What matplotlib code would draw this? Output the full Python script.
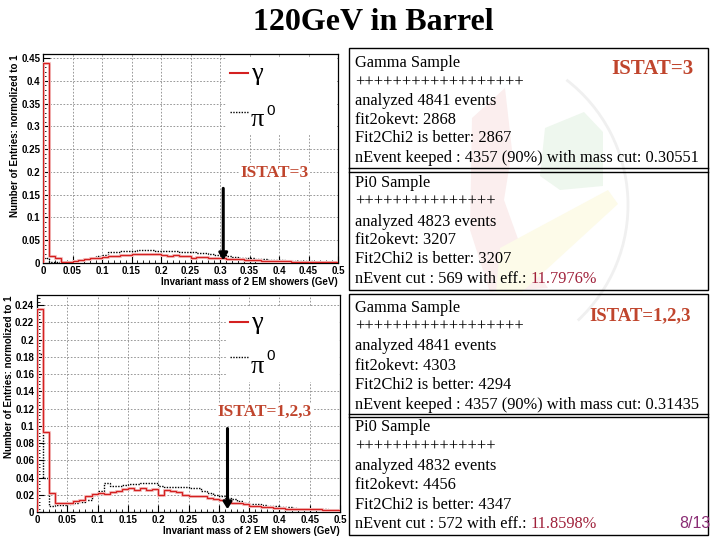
import numpy as np
import matplotlib
matplotlib.use("Agg")
import matplotlib.pyplot as plt
from matplotlib.patches import Rectangle, Polygon, Arc
from matplotlib.lines import Line2D
from matplotlib.ticker import MultipleLocator, FormatStrFormatter

# ---------------- data ----------------
bin_edges = np.round(np.arange(0, 0.5001, 0.01), 3)

gamma_istat3 = [0.44, 0.015, 0.012, 0.003, 0.003, 0.005, 0.006, 0.008, 0.010, 0.012,
                0.014, 0.015, 0.016, 0.017, 0.018, 0.019, 0.019, 0.020, 0.020, 0.019,
                0.018, 0.016, 0.017, 0.016, 0.015, 0.012, 0.014, 0.013, 0.012, 0.011,
                0.010, 0.009, 0.009, 0.008, 0.007, 0.006, 0.006, 0.005, 0.005, 0.004,
                0.004, 0.004, 0.003, 0.003, 0.003, 0.003, 0.002, 0.002, 0.002, 0.002]
pi0_istat3 = [0.012, 0.002, 0.002, 0.002, 0.003, 0.005, 0.007, 0.009, 0.012, 0.015,
              0.017, 0.025, 0.024, 0.026, 0.027, 0.027, 0.028, 0.028, 0.028, 0.027,
              0.027, 0.026, 0.026, 0.025, 0.024, 0.024, 0.022, 0.021, 0.020, 0.018,
              0.017, 0.015, 0.014, 0.012, 0.011, 0.010, 0.009, 0.008, 0.007, 0.007,
              0.006, 0.005, 0.005, 0.004, 0.004, 0.004, 0.003, 0.003, 0.002, 0.002]

gamma_istat123 = [0.235, 0.0925, 0.0215, 0.010, 0.010, 0.011, 0.0125, 0.014, 0.018, 0.021,
                  0.022, 0.021, 0.023, 0.0245, 0.027, 0.028, 0.026, 0.028, 0.026, 0.027,
                  0.020, 0.026, 0.024, 0.023, 0.020, 0.019, 0.018, 0.019, 0.016, 0.015,
                  0.014, 0.013, 0.011, 0.010, 0.009, 0.007, 0.007, 0.006, 0.006, 0.005,
                  0.005, 0.004, 0.004, 0.004, 0.003, 0.003, 0.003, 0.002, 0.002, 0.002]
pi0_istat123 = [0.183, 0.039, 0.0075, 0.008, 0.008, 0.009, 0.010, 0.012, 0.014, 0.020,
                0.024, 0.034, 0.030, 0.030, 0.031, 0.032, 0.032, 0.034, 0.034, 0.034,
                0.030, 0.029, 0.029, 0.029, 0.029, 0.028, 0.028, 0.024, 0.022, 0.020,
                0.018, 0.016, 0.015, 0.013, 0.011, 0.009, 0.009, 0.008, 0.007, 0.007,
                0.006, 0.006, 0.005, 0.004, 0.004, 0.003, 0.003, 0.003, 0.002, 0.002]

mass_cuts = [0.30551, 0.31435]
arrow_tops = [0.17, 0.10]
istat_labels = ["ISTAT=3", "ISTAT=1,2,3"]

title = "120GeV in Barrel"
xlabel = "Invariant mass of 2 EM showers (GeV)"
ylabel = "Number of Entries: normolized to 1"

box_top = [
    ["Gamma Sample", "++++++++++++++++++", "analyzed 4841 events", "fit2okevt: 2868",
     "Fit2Chi2 is better: 2867", "nEvent keeped : 4357 (90%) with mass cut: 0.30551"],
    ["Pi0 Sample", "+++++++++++++++", "analyzed 4823 events", "fit2okevt: 3207",
     "Fit2Chi2 is better: 3207", "nEvent cut : 569 with eff.: "],
]
eff_top = "11.7976%"
box_bot = [
    ["Gamma Sample", "++++++++++++++++++", "analyzed 4841 events", "fit2okevt: 4303",
     "Fit2Chi2 is better: 4294", "nEvent keeped : 4357 (90%) with mass cut: 0.31435"],
    ["Pi0 Sample", "+++++++++++++++", "analyzed 4832 events", "fit2okevt: 4456",
     "Fit2Chi2 is better: 4347", "nEvent cut : 572 with eff.: "],
]
eff_bot = "11.8598%"
page = "8/13"

# ---------------- figure ----------------
W, H = 720, 540
fig = plt.figure(figsize=(7.2, 5.4), dpi=100)
fig.patch.set_facecolor("white")

def fx(px):
    return px / W

def fy(py):
    return 1 - py / H

def pts(seq):
    return [(fx(a), fy(b)) for a, b in seq]

SERIF = ["Liberation Serif", "DejaVu Serif"]
SANS = ["Liberation Sans", "DejaVu Sans"]
RED = "#d42020"
ISTATC = "#c0452d"

# very faint background watermark (logo)
fig.patches.append(Polygon(pts([(472, 118), (505, 88), (512, 150), (504, 200), (522, 250),
                                (548, 288), (490, 292), (470, 230)]),
                           closed=True, transform=fig.transFigure, facecolor="#fbeeee",
                           edgecolor="none", zorder=0))
fig.patches.append(Polygon(pts([(545, 128), (584, 112), (603, 132), (603, 186), (560, 190),
                                (540, 176)]),
                           closed=True, transform=fig.transFigure, facecolor="#eef7ee",
                           edgecolor="none", zorder=0))
fig.patches.append(Polygon(pts([(500, 248), (608, 190), (618, 204), (522, 292), (496, 292)]),
                           closed=True, transform=fig.transFigure, facecolor="#fdfbe9",
                           edgecolor="none", zorder=0))
fig.patches.append(Arc((fx(470), fy(205)), 2 * 158 / W, 2 * 158 / H, theta1=-55, theta2=60,
                       transform=fig.transFigure, color="#f0f0f0", lw=2, zorder=0))

fig.text(fx(373), fy(22), title, ha="center", va="center", family=SERIF,
         fontsize=23, fontweight="bold")

panels = [
    dict(rect=(43, 54, 338, 263), ylim=0.459, ymaj=0.05, ymin=0.01,
         g=gamma_istat3, p=pi0_istat3, cut=mass_cuts[0], atop=arrow_tops[0],
         lab=istat_labels[0], labxy=(0.392, 0.198), leg_y=(73, 112, 120)),
    dict(rect=(37, 295, 340, 512), ylim=0.2516, ymaj=0.02, ymin=0.004,
         g=gamma_istat123, p=pi0_istat123, cut=mass_cuts[1], atop=arrow_tops[1],
         lab=istat_labels[1], labxy=(0.376, 0.116), leg_y=(322, 357, 367)),
]

for P in panels:
    l, t, r, b = P["rect"]
    ax = fig.add_axes([fx(l), fy(b), fx(r - l), (b - t) / H])
    ax.set_xlim(0, 0.5)
    ax.set_ylim(0, P["ylim"])
    ax.stairs(P["p"], bin_edges, color="black", lw=1.0, ls=(0, (1, 1)), baseline=0, zorder=3)
    ax.stairs(P["g"], bin_edges, color="#f6cccc", lw=2.2, baseline=0, zorder=3.5)
    ax.stairs(P["g"], bin_edges, color=RED, lw=1.0, baseline=0, zorder=4)
    ax.xaxis.set_major_locator(MultipleLocator(0.05))
    ax.xaxis.set_minor_locator(MultipleLocator(0.01))
    ax.yaxis.set_major_locator(MultipleLocator(P["ymaj"]))
    ax.yaxis.set_minor_locator(MultipleLocator(P["ymin"]))
    ax.xaxis.set_major_formatter(FormatStrFormatter("%g"))
    ax.yaxis.set_major_formatter(FormatStrFormatter("%g"))
    ax.tick_params(which="both", direction="in", top=False, right=False,
                   labelsize=7, pad=2)
    ax.tick_params(which="major", length=5, width=0.8)
    ax.tick_params(which="minor", length=2.5, width=0.6)
    for lbl in ax.get_xticklabels() + ax.get_yticklabels():
        lbl.set_fontweight("bold")
        lbl.set_family(SANS)
    ax.grid(True, which="major", color="#888888", ls=(0, (2, 2)), lw=0.6)
    ax.set_axisbelow(True)
    for s in ax.spines.values():
        s.set_linewidth(0.9)
    ax.set_xlabel(xlabel, fontsize=7, fontweight="bold", family=SANS, loc="right", labelpad=1)
    ax.set_ylabel(ylabel, fontsize=7, fontweight="bold", family=SANS, loc="top", labelpad=1)
    ax.annotate("", xy=(P["cut"], 0.0), xytext=(P["cut"], P["atop"]),
                arrowprops=dict(arrowstyle="-|>,head_width=0.25,head_length=0.4",
                                color="black", lw=2.2), zorder=6)
    ax.text(P["labxy"][0], P["labxy"][1], P["lab"], ha="center", va="center",
            family=SERIF, fontweight="bold", fontsize=12.5, color=ISTATC, zorder=7,
            bbox=dict(facecolor="white", edgecolor="none", pad=1))
    # legend
    ly1, ly2, ly3 = P["leg_y"]
    fig.patches.append(Rectangle((fx(226), fy(ly3 + 15)), fx(r - 1 - 226),
                                 (ly3 + 15 - (ly1 - 16)) / H,
                                 transform=fig.transFigure, facecolor="white",
                                 edgecolor="none", zorder=2.5))
    fig.lines.append(Line2D([fx(230), fx(248)], [fy(ly1), fy(ly1)], color=RED, lw=1.5,
                            transform=fig.transFigure, zorder=5))
    fig.text(fx(251), fy(ly1 + 1), "γ", family=SERIF, fontsize=19, ha="left", va="center",
             zorder=5)
    fig.lines.append(Line2D([fx(230), fx(248)], [fy(ly2), fy(ly2)], color="black", lw=1.0,
                            ls=(0, (1, 1)), transform=fig.transFigure, zorder=5))
    fig.text(fx(251), fy(ly3), "π", family=SERIF, fontsize=19, ha="left", va="center",
             zorder=5)
    fig.text(fx(266), fy(ly2 - 1), "0", family=SANS, fontsize=11, ha="left", va="center",
             zorder=5)

# ---------------- text boxes ----------------
def rect(x0, y0, x1, y1, lw=1.0):
    fig.patches.append(Rectangle((fx(x0), fy(y1)), fx(x1 - x0), (y1 - y0) / H,
                                 transform=fig.transFigure, facecolor="none",
                                 edgecolor="black", lw=lw, zorder=5))

def hline(y, x0=349, x1=708):
    fig.lines.append(Line2D([fx(x0), fx(x1)], [fy(y), fy(y)], color="black", lw=1.0,
                            transform=fig.transFigure, zorder=5))

rect(349, 48, 708, 290)
hline(168); hline(172)
rect(349, 294, 708, 535)
hline(414); hline(417)

TXT = 11.8
top_rows = [[63, 83, 101, 120, 138, 158], [183, 202, 222, 240, 259, 279]]
bot_rows = [[308, 327, 346, 366, 385, 405], [427, 447, 466, 485, 505, 524]]

def write_box(lines, rows):
    last = None
    for blk, ys in zip(lines, rows):
        for s, y in zip(blk, ys):
            last = fig.text(fx(355), fy(y), s, family=SERIF, fontsize=TXT,
                            ha="left", va="center", zorder=6)
    return last

last_top = write_box(box_top, top_rows)
last_bot = write_box(box_bot, bot_rows)

fig.canvas.draw()
renderer = fig.canvas.get_renderer()
for txt_obj, eff, y in [(last_top, eff_top, 279), (last_bot, eff_bot, 524)]:
    bb = txt_obj.get_window_extent(renderer)
    fig.text(bb.x1 / W, fy(y), eff, family=SERIF, fontsize=TXT, color="#a0203a",
             ha="left", va="center", zorder=6)

fig.text(fx(694), fy(69), istat_labels[0], family=SERIF, fontweight="bold",
         fontsize=15, color=ISTATC, ha="right", va="center", zorder=6)
fig.text(fx(691), fy(316), istat_labels[1], family=SERIF, fontweight="bold",
         fontsize=13.5, color=ISTATC, ha="right", va="center", zorder=6)
fig.text(fx(711), fy(524), page, family=SANS, fontsize=11.5, color="#8a2c74",
         ha="right", va="center", zorder=6)

fig.savefig("out.png", dpi=100)
